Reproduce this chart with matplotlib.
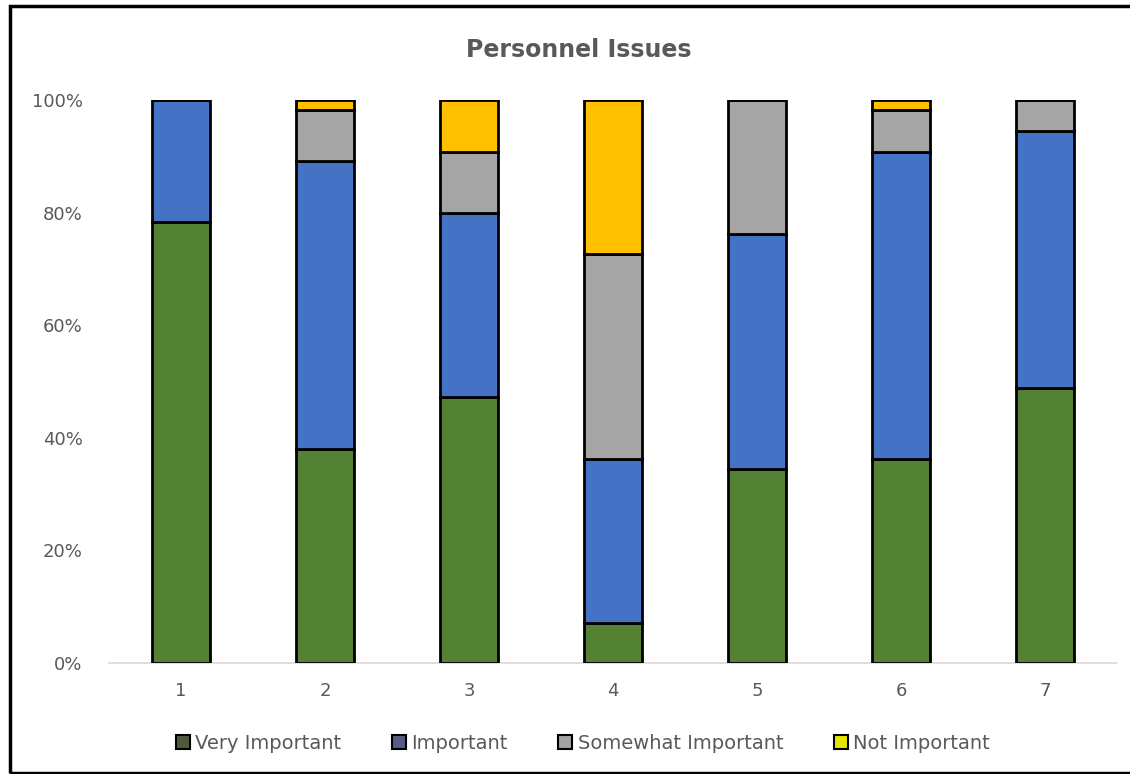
import matplotlib

matplotlib.use("Agg")
import matplotlib.pyplot as plt
import numpy as np
from matplotlib.patches import Patch, Rectangle
from matplotlib.ticker import PercentFormatter


CATEGORIES = ["1", "2", "3", "4", "5", "6", "7"]
SERIES_NAMES = ["Very Important", "Important", "Somewhat Important", "Not Important"]

# share of responses per category (percent)
VERY_IMPORTANT = [78.3, 38.0, 47.2, 7.1, 34.5, 36.2, 48.8]
IMPORTANT = [21.7, 51.2, 32.7, 29.1, 41.7, 54.6, 45.7]
SOMEWHAT_IMPORTANT = [0.0, 9.0, 10.9, 36.4, 23.8, 7.4, 5.5]
NOT_IMPORTANT = [0.0, 1.8, 9.2, 27.4, 0.0, 1.8, 0.0]

BAR_COLORS = ["#548235", "#4472C4", "#A5A5A5", "#FFC000"]
LEGEND_COLORS = ["#4f5a3c", "#5a5a86", "#a3a3a3", "#e6e600"]
TEXT_COLOR = "#595959"


def main() -> None:
    fig = plt.figure(figsize=(11.30, 7.74), dpi=100)
    ax = fig.add_axes([109 / 1130, 111 / 774, 1008 / 1130, 563 / 774])

    x = np.arange(len(CATEGORIES))
    bottom = np.zeros(len(CATEGORIES))
    for values, color in zip(
        [VERY_IMPORTANT, IMPORTANT, SOMEWHAT_IMPORTANT, NOT_IMPORTANT], BAR_COLORS
    ):
        values = np.array(values)
        ax.bar(x, values, 0.40, bottom=bottom, color=color,
               edgecolor="black", linewidth=2, zorder=3)
        bottom += values

    ax.set_xlim(-0.5, len(CATEGORIES) - 0.5)
    ax.set_ylim(0, 100)
    ax.set_yticks(np.arange(0, 101, 20))
    ax.yaxis.set_major_formatter(PercentFormatter(decimals=0))
    ax.set_xticks(x)
    ax.set_xticklabels(CATEGORIES)
    ax.tick_params(axis="both", length=0, labelsize=13, colors=TEXT_COLOR)
    ax.tick_params(axis="y", pad=19)
    ax.tick_params(axis="x", pad=14)
    for side in ["top", "right", "left"]:
        ax.spines[side].set_visible(False)
    ax.spines["bottom"].set_color("#d9d9d9")
    ax.spines["bottom"].set_linewidth(1.2)

    fig.text(0.512, 0.935, "Personnel Issues", ha="center", va="center",
             fontsize=17, fontweight="bold", color=TEXT_COLOR)

    handles = [Patch(facecolor=c, edgecolor="black", linewidth=1.5) for c in LEGEND_COLORS]
    fig.legend(handles, SERIES_NAMES, loc="center", bbox_to_anchor=(0.516, 0.04),
               ncol=4, frameon=False, fontsize=14, labelcolor=TEXT_COLOR,
               handlelength=0.7, handleheight=0.7, handletextpad=0.3,
               columnspacing=2.6)

    # outer border around the chart area
    fig.patches.append(Rectangle((10 / 1130, 1 / 774), 1125 / 1130, 767 / 774,
                                 transform=fig.transFigure, fill=False,
                                 edgecolor="black", linewidth=2.5))

    fig.savefig("out.png", dpi=100)
    plt.close(fig)


if __name__ == "__main__":
    main()
